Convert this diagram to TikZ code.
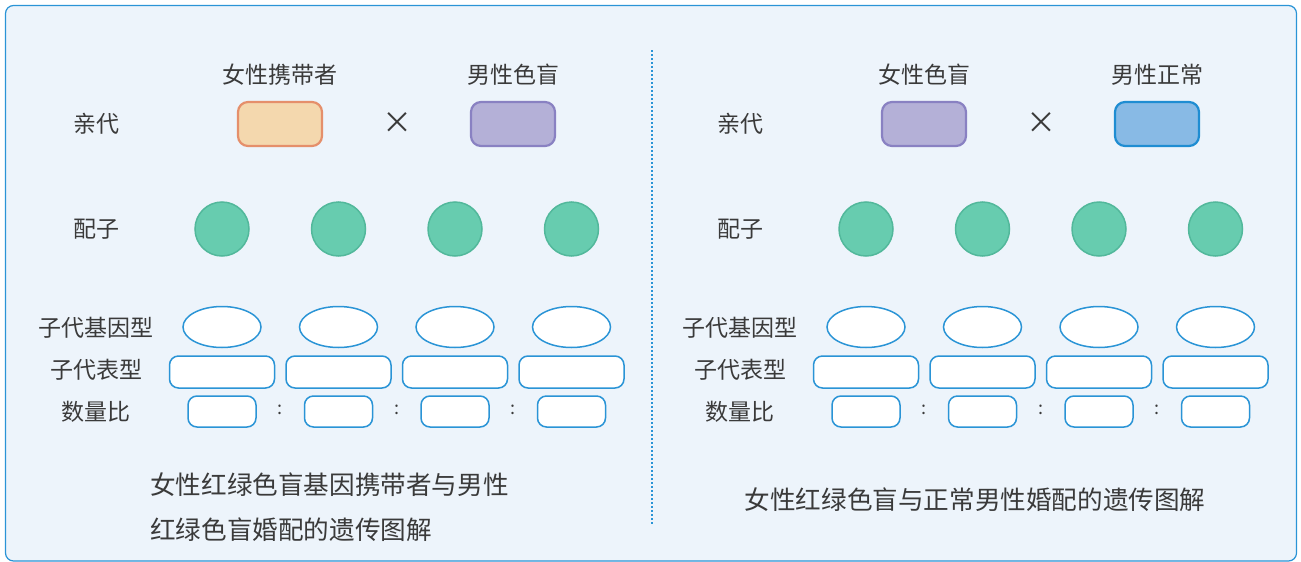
\documentclass[tikz,border=0pt]{standalone}
\usepackage{fontspec}
\setmainfont{Noto Sans CJK SC}
\usetikzlibrary{shapes.geometric}

\definecolor{fons}{HTML}{EDF4FB}
\definecolor{vora}{HTML}{2A94D6}
\definecolor{tinta}{HTML}{3A3A3A}
\definecolor{taronja}{HTML}{F4D8AE}
\definecolor{taronjafosc}{HTML}{E58F6B}
\definecolor{lila}{HTML}{B4B0D7}
\definecolor{lilafosc}{HTML}{8981C2}
\definecolor{blau}{HTML}{88BAE5}
\definecolor{blaufosc}{HTML}{1F8DD2}
\definecolor{verd}{HTML}{67CCAF}
\definecolor{verdfosc}{HTML}{52B89B}

\begin{document}
\begin{tikzpicture}[x=1pt, y=-1pt,
    every node/.style={text=tinta, font=\fontsize{23}{28}\selectfont},
    pare/.style={draw, line width=2.2pt, rounded corners=10pt, minimum width=84pt, minimum height=44pt, inner sep=0pt},
    gamet/.style={circle, draw=verdfosc, fill=verd, line width=1.5pt, minimum size=54pt, inner sep=0pt},
    genotip/.style={ellipse, draw=vora, fill=white, line width=1.5pt, minimum width=78pt, minimum height=41pt, inner sep=0pt},
    fenotip/.style={draw=vora, fill=white, line width=1.5pt, rounded corners=9pt, minimum width=105pt, minimum height=32pt, inner sep=0pt},
    ratio/.style={draw=vora, fill=white, line width=1.5pt, rounded corners=9pt, minimum width=68pt, minimum height=31pt, inner sep=0pt}]

    \useasboundingbox (0,0) rectangle (1301,562);

    % MARC I FONS
    \draw[vora, line width=1.2pt, fill=fons, rounded corners=8pt] (5.5,5.5) rectangle (1296.5,561);

    % LINIA DIVISORIA
    \draw[vora, line width=1.6pt, dash pattern=on 1.6pt off 2.4pt] (652,50) -- (652,525);

    % FILES COMUNES DELS DOS ESQUEMES
    \foreach \dx/\p in {0/L, 644/R} {
        \node (pares\p) at ({96+\dx}, 124) {亲代};
        \node (gametes\p) at ({96+\dx}, 229) {配子};
        \node (genotips\p) at ({96+\dx}, 328) {子代基因型};
        \node (fenotips\p) at ({96+\dx}, 370) {子代表型};
        \node (ratios\p) at ({96+\dx}, 412) {数量比};
        \node[font=\fontsize{30}{30}\selectfont] (creu\p) at ({397+\dx}, 123) {×};
        \foreach \i/\x in {1/222, 2/338.5, 3/455, 4/571.5} {
            \node[gamet] (gamet\p\i) at ({\x+\dx}, 229) {};
            \node[genotip] (geno\p\i) at ({\x+\dx}, 327) {};
            \node[fenotip] (feno\p\i) at ({\x+\dx}, 372) {};
            \node[ratio] (ratio\p\i) at ({\x+\dx}, 411.5) {};
        }
        \foreach \i/\x in {1/280, 2/397, 3/513} {
            \node[font=\fontsize{18}{18}\selectfont] (dospunts\p\i) at ({\x+\dx}, 410) {:};
        }
    }

    % PARES DE L'ESQUEMA ESQUERRE
    \node[pare, draw=taronjafosc, fill=taronja] (mareL) at (280, 124) {};
    \node[pare, draw=lilafosc, fill=lila] (pareL) at (513, 124) {};
    \node (titolMareL) at (280, 75) {女性携带者};
    \node (titolPareL) at (513, 75) {男性色盲};

    % PARES DE L'ESQUEMA DRET
    \node[pare, draw=lilafosc, fill=lila] (mareR) at (924, 124) {};
    \node[pare, draw=blaufosc, fill=blau] (pareR) at (1157, 124) {};
    \node (titolMareR) at (924, 75) {女性色盲};
    \node (titolPareR) at (1157, 75) {男性正常};

    % PEUS
    \node[anchor=west, align=left, inner sep=0pt, font=\fontsize{25.6}{45}\selectfont] (peuL) at (150, 507)
        {女性红绿色盲基因携带者与男性\\红绿色盲婚配的遗传图解};
    \node[font=\fontsize{25.6}{30}\selectfont] (peuR) at (975, 500) {女性红绿色盲与正常男性婚配的遗传图解};

\end{tikzpicture}
\end{document}
